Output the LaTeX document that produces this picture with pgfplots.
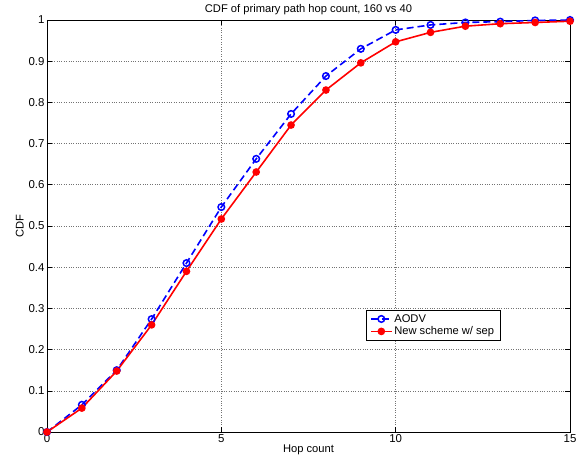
\documentclass[border=0pt]{standalone}
\usepackage{fontspec}
\setmainfont{Liberation Sans}
\usepackage{pgfplots}
\pgfplotsset{compat=1.18}

\begin{document}
\begin{tikzpicture}[x=1bp,y=1bp]
\useasboundingbox (-47bp,-36bp) rectangle (529bp,432bp);
\begin{axis}[
  at={(0,0)}, anchor=south west,
  scale only axis,
  width=523bp, height=412bp,
  xmin=0, xmax=15, ymin=0, ymax=1,
  xtick={0,5,10,15},
  ytick={0,0.1,...,1},
  yticklabels={0,0.1,0.2,0.3,0.4,0.5,0.6,0.7,0.8,0.9,1},
  tick align=inside,
  tick pos=both,
  major tick length=5bp,
  grid=major,
  major grid style={black!55, dotted, line width=0.6pt},
  axis line style={black, line width=0.8pt},
  every tick/.style={black, line width=0.6pt},
  tick label style={font=\fontsize{11.5}{13}\selectfont},
  /pgf/number format/assume math mode=true,
  xticklabel style={yshift=1bp},
  yticklabel style={xshift=1bp},
  title={CDF of primary path hop count, 160 vs 40},
  title style={font=\fontsize{11.2}{13}\selectfont, yshift=-4bp},
  xlabel={Hop count},
  ylabel={CDF},
  label style={font=\fontsize{11.2}{13}\selectfont},
  xlabel style={yshift=5bp},
  ylabel style={yshift=-2bp},
  legend style={at={(0.61,0.296)}, anchor=north west,
    font=\fontsize{11.2}{13}\selectfont, draw=black, line width=0.6pt,
    inner xsep=4bp, inner ysep=2bp, row sep=-1pt, cells={anchor=west}},
  legend cell align=left,
  legend image code/.code={%
    \draw[mark repeat=2, mark phase=2]
      plot coordinates {(0cm,0cm) (0.36cm,0cm) (0.72cm,0cm)};},
]
\addplot[blue, dashed, dash pattern=on 7bp off 4bp, line width=1.6pt,
  mark=o, mark size=3.3bp, mark options={solid, line width=1.5pt}]
  coordinates {
  (0,0) (1,0.066) (2,0.150) (3,0.274) (4,0.410) (5,0.546) (6,0.663)
  (7,0.772) (8,0.864) (9,0.930) (10,0.976) (11,0.988) (12,0.994)
  (13,0.996) (14,0.999) (15,1.0)
  };
\addlegendentry{AODV}
\addplot[red, solid, line width=1.6pt,
  mark=*, mark size=3bp, mark options={solid, fill=red}]
  coordinates {
  (0,0) (1,0.058) (2,0.148) (3,0.260) (4,0.390) (5,0.517) (6,0.631)
  (7,0.745) (8,0.830) (9,0.896) (10,0.947) (11,0.970) (12,0.985)
  (13,0.991) (14,0.994) (15,0.997)
  };
\addlegendentry{New scheme w/ sep}
\end{axis}
\end{tikzpicture}
\end{document}
